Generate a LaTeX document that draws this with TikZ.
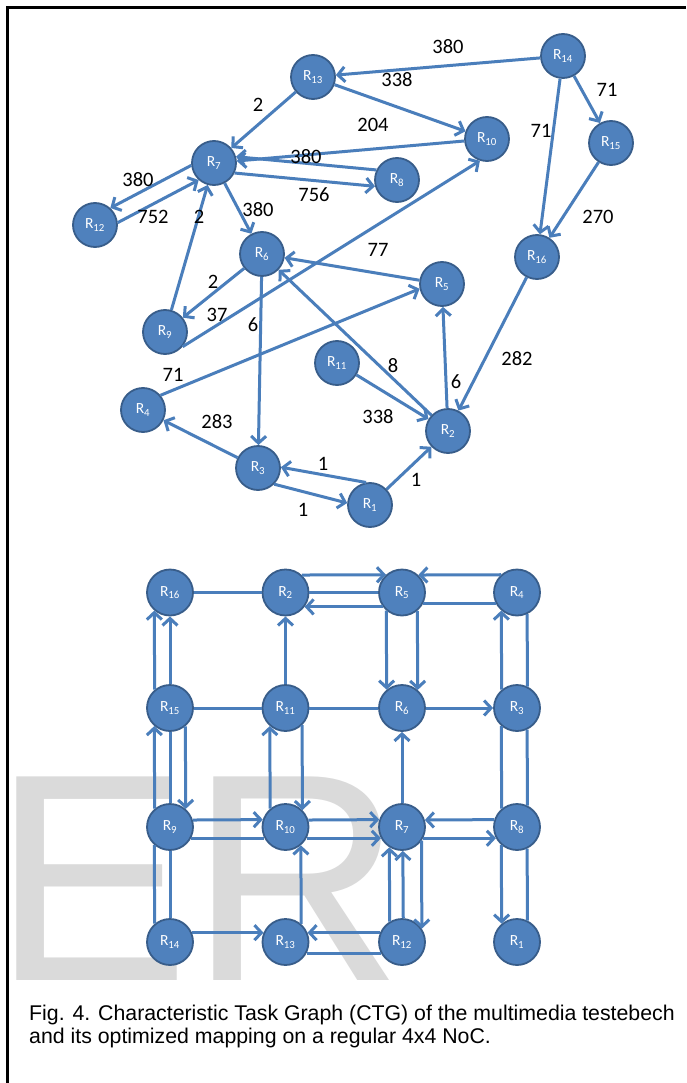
\documentclass[tikz,border=0pt]{standalone}
\usepackage{fontspec}
\setmainfont{Carlito}
\newfontfamily\arialf{Liberation Sans}
\usetikzlibrary{arrows.meta}
\definecolor{ln}{HTML}{4A7EBB}
\definecolor{nf}{HTML}{4F81BD}
\definecolor{nd}{HTML}{385D8A}
\definecolor{wm}{HTML}{DADADA}
\tikzset{
  rnode/.style={circle, fill=nf, draw=nd, line width=1.8pt, minimum size=44pt, inner sep=0pt, text=white, font=\fontsize{15.5}{15.5}\selectfont},
  gnode/.style={rnode, minimum size=46pt},
  ed/.style={draw=ln, line width=3pt},
  ar/.style={ed, -{Straight Barb[length=7pt,width=15pt]}},
  lab/.style={font=\fontsize{20.5}{20.5}\selectfont, inner sep=0pt},
}
\begin{document}
\begin{tikzpicture}[x=1pt,y=-1pt]
\useasboundingbox (0,0) rectangle (686,1083);
\fill[white] (0,0) rectangle (686,1083);
% watermark
\node[anchor=base west, inner sep=0pt, text=wm, font=\arialf\fontsize{296}{296}\selectfont] (wmk) at (0,980) {\hspace*{-8pt}ER};
% frame
\draw[line width=2.5pt] (7.5,1083) -- (7.5,7.5) -- (686,7.5);

% ---------- top CTG ----------
\node[rnode] (t14) at (563,56) {R\textsubscript{14}};
\node[rnode] (t13) at (313,77) {R\textsubscript{13}};
\node[rnode] (t10) at (487,139) {R\textsubscript{10}};
\node[rnode] (t15) at (611,143) {R\textsubscript{15}};
\node[rnode] (t7) at (214,163) {R\textsubscript{7}};
\node[rnode] (t8) at (397,180) {R\textsubscript{8}};
\node[rnode] (t12) at (95,225) {R\textsubscript{12}};
\node[rnode] (t6) at (262,254) {R\textsubscript{6}};
\node[rnode] (t16) at (537,257) {R\textsubscript{16}};
\node[rnode] (t5) at (442,284) {R\textsubscript{5}};
\node[rnode] (t9) at (165,332) {R\textsubscript{9}};
\node[rnode] (t11) at (337,363) {R\textsubscript{11}};
\node[rnode] (t4) at (143,410) {R\textsubscript{4}};
\node[rnode] (t2) at (448,431) {R\textsubscript{2}};
\node[rnode] (t3) at (258,468) {R\textsubscript{3}};
\node[rnode] (t1) at (370,505) {R\textsubscript{1}};

\draw[ar] (t14) -- (t13);
\draw[ar] (t13) -- (t10);
\draw[ar] (t14) -- (t15);
\draw[ar] (t14) -- (t16);
\draw[ar] (t15) -- (t16);
\draw[ar] (t13) -- (t7);
\draw[ar] (t10) -- (t7);
\draw[ar] (t8.154) -- (t7.16);
\draw[ar] (t7.-26) -- (t8.196);
\draw[ar] (t7.186) -- (t12.48);
\draw[ar] (t12.6) -- (t7.228);
\draw[ar] (t7) -- (t6);
\draw[ar] (t9) -- (t7);
\draw[ar] (t9.-40) -- (t10.252);
\draw[ar] (t5) -- (t6);
\draw[ar] (t6) -- (t9);
\draw[ar] (t6) -- (t3);
\draw[ar] (t2) -- (t6);
\draw[ar] (t4.40) -- (t5.192);
\draw[ar] (t2) -- (t5);
\draw[ar] (t16) -- (t2);
\draw[ar] (t11) -- (t2);
\draw[ar] (t3) -- (t4);
\draw[ar] (t1.100) -- (t3.2);
\draw[ar] (t3.-45) -- (t1.175);
\draw[ar] (t1) -- (t2);

\node[lab] (l1) at (448,47) {380};
\node[lab] (l2) at (397,80) {338};
\node[lab] (l3) at (607,90) {71};
\node[lab] (l4) at (258,105) {2};
\node[lab] (l5) at (373,125) {204};
\node[lab] (l6) at (541,131) {71};
\node[lab] (l7) at (306,157) {380};
\node[lab] (l8) at (138,180) {380};
\node[lab] (l9) at (314,195) {756};
\node[lab] (l10) at (258,210) {380};
\node[lab] (l11) at (153,217) {752};
\node[lab] (l12) at (199,217) {2};
\node[lab] (l13) at (598,217) {270};
\node[lab] (l14) at (378,250) {77};
\node[lab] (l15) at (213,282) {2};
\node[lab] (l16) at (217,315) {37};
\node[lab] (l17) at (253,325) {6};
\node[lab] (l18) at (173,375) {71};
\node[lab] (l19) at (393,366) {8};
\node[lab] (l20) at (456,382) {6};
\node[lab] (l21) at (517,359) {282};
\node[lab] (l22) at (217,422) {283};
\node[lab] (l23) at (378,417) {338};
\node[lab] (l24) at (323,464) {1};
\node[lab] (l25) at (416,480) {1};
\node[lab] (l26) at (303,510) {1};

% ---------- bottom grid ----------
\node[gnode] (g16) at (170,592.5) {R\textsubscript{16}};
\node[gnode] (g2) at (285.5,592.5) {R\textsubscript{2}};
\node[gnode] (g5) at (402,592.5) {R\textsubscript{5}};
\node[gnode] (g4) at (517,592.5) {R\textsubscript{4}};
\node[gnode] (g15) at (170,708) {R\textsubscript{15}};
\node[gnode] (g11) at (285.5,708) {R\textsubscript{11}};
\node[gnode] (g6) at (402,708) {R\textsubscript{6}};
\node[gnode] (g3) at (517,708) {R\textsubscript{3}};
\node[gnode] (g9) at (170,827) {R\textsubscript{9}};
\node[gnode] (g10) at (285.5,827) {R\textsubscript{10}};
\node[gnode] (g7) at (402,827) {R\textsubscript{7}};
\node[gnode] (g8) at (517,827) {R\textsubscript{8}};
\node[gnode] (g14) at (170,942) {R\textsubscript{14}};
\node[gnode] (g13) at (285.5,942) {R\textsubscript{13}};
\node[gnode] (g12) at (402,942) {R\textsubscript{12}};
\node[gnode] (g1) at (517,942) {R\textsubscript{1}};

% row 1
\draw[ed] (g16.0) -- (g2.180);
\draw[ar] (g2.47.6) -- (g5.132.4);
\draw[ed] (g2.0) -- (g5.180);
\draw[ar] (g5.217.5) -- (g2.-37.5);
\draw[ar] (g4.132.4) -- (g5.47.6);
\draw[ed] (g5.-28.6) -- (g4.208.6);
% row 2
\draw[ed] (g15.0) -- (g11.180);
\draw[ed] (g11.0) -- (g6.180);
\draw[ar] (g6.0) -- (g3.180);
% row 3
\draw[ar] (g9.17.7) -- (g10.162.3);
\draw[ed] (g9.-28.6) -- (g10.208.6);
\draw[ar] (g10.17.7) -- (g7.162.3);
\draw[ar] (g10.-28.6) -- (g7.208.6);
\draw[ar] (g8.162.3) -- (g7.17.7);
\draw[ar] (g7.-28.6) -- (g8.208.6);
% row 4
\draw[ar] (g14.23) -- (g13.157);
\draw[ar] (g12.157) -- (g13.23);
\draw[ed] (g13.-28.6) -- (g12.208.6);
% column 1
\draw[ar] (g15.130.7) -- (g16.229.3);
\draw[ar] (g15.90) -- (g16.270);
\draw[ar] (g9.130.7) -- (g15.229.3);
\draw[ed] (g9.90) -- (g15.270);
\draw[ar] (g15.310.7) -- (g9.49.3);
\draw[ed] (g14.130.7) -- (g9.229.3);
\draw[ed] (g14.90) -- (g9.270);
% column 2
\draw[ar] (g11.90) -- (g2.270);
\draw[ar] (g10.130.7) -- (g11.229.3);
\draw[ar] (g11.314.1) -- (g10.45.9);
\draw[ar] (g13.49.3) -- (g10.310.7);
% column 3
\draw[ar] (g5.229.3) -- (g6.130.7);
\draw[ar] (g5.310.7) -- (g6.49.3);
\draw[ar] (g7.90) -- (g6.270);
\draw[ar] (g12.121.5) -- (g7.238.5);
\draw[ar] (g12.87.5) -- (g7.272.5);
\draw[ar] (g7.325.7) -- (g12.34.3);
% column 4
\draw[ar] (g3.130.7) -- (g4.229.3);
\draw[ed] (g4.295.8) -- (g3.64.2);
\draw[ed] (g3.229.3) -- (g8.130.7);
\draw[ed] (g3.295.8) -- (g8.64.2);
\draw[ar] (g8.229.3) -- (g1.130.7);
\draw[ed] (g8.295.8) -- (g1.64.2);

% caption
\node[anchor=base west, inner sep=0pt, font=\arialf\fontsize{21.3}{23}\selectfont] (cap1) at (29,1020) {Fig. 4. Characteristic Task Graph (CTG) of the multimedia testebech};
\node[anchor=base west, inner sep=0pt, font=\arialf\fontsize{21.3}{23}\selectfont] (cap2) at (29,1043.5) {and its optimized mapping on a regular 4x4 NoC.};
\end{tikzpicture}
\end{document}
